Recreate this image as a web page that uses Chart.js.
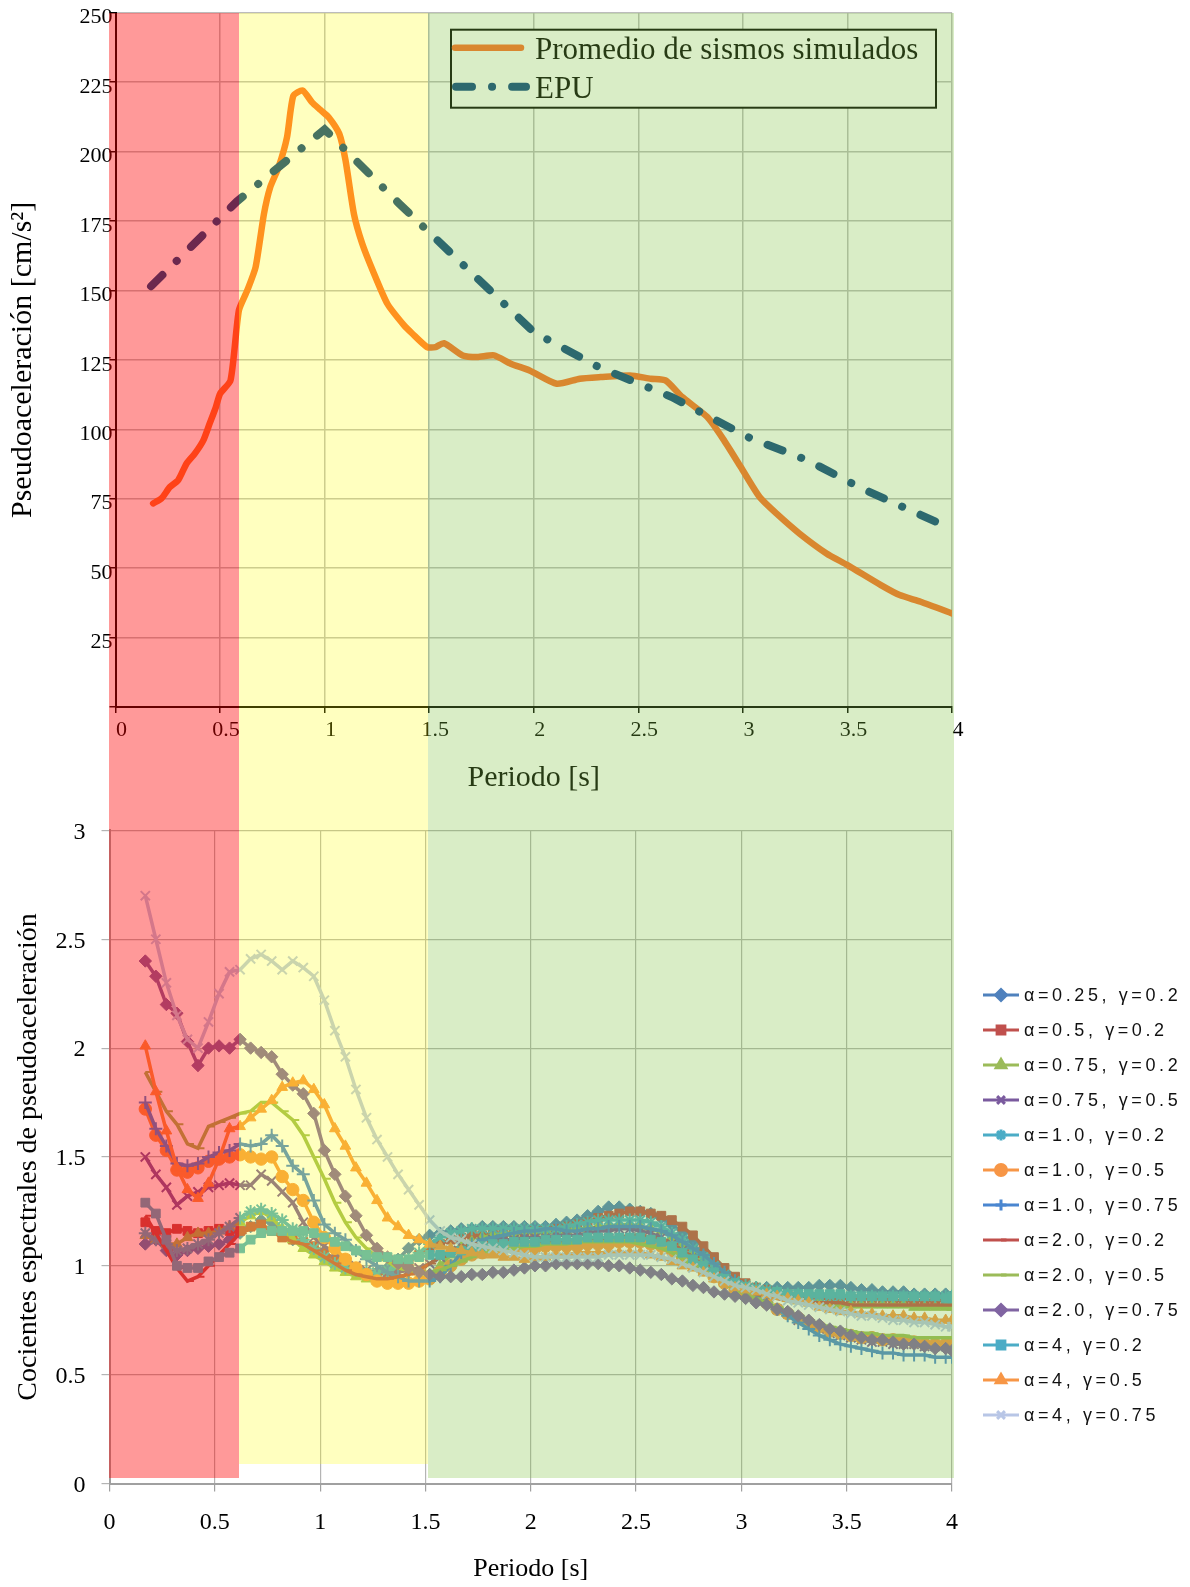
<!DOCTYPE html>
<html>
<head>
<meta charset="utf-8">
<title>Pseudoaceleración y cocientes espectrales</title>
<script src="https://cdn.jsdelivr.net/npm/chart.js@4.4.0/dist/chart.umd.min.js"></script>
<style>
  body { margin: 0; background: #fff; }
  #page { position: relative; width: 1190px; height: 1587px; overflow: hidden; }
  #topChart { position: absolute; left: 0; top: 0; }
  #bottomChart { position: absolute; left: 0; top: 800px; }
  .band { position: absolute; pointer-events: none; }
</style>
</head>
<body>
<div id="page">
  <canvas id="topChart" width="1190" height="800"></canvas>
  <canvas id="bottomChart" width="1190" height="787"></canvas>
</div>
<script>
// ---- Upper chart data: pseudoacceleration [cm/s2] ----
var promPeriods = [0.18,0.22,0.26,0.30,0.34,0.38,0.42,0.45,0.48,0.50,
    0.55,0.59,0.63,0.67,0.71,0.74,0.78,0.82,0.85,0.895,
    0.94,0.98,1.02,1.07,1.10,1.14,1.18,1.23,1.30,1.38,
    1.42,1.49,1.53,1.57,1.66,1.73,1.81,1.89,1.98,2.11,
    2.22,2.32,2.46,2.56,2.63,2.71,2.83,2.91,2.99,3.08,
    3.16,3.27,3.40,3.50,3.66,3.75,3.85,4.0];
var promValues = [73.3,75.1,79.2,81.7,87.7,91.3,96,102,108,112.8,
    117.6,142.8,150,158.4,177.6,187.2,194.4,205.1,220,222,
    217.7,215,212.3,206.4,196.8,177.6,166.8,157.2,145.2,137.4,
    134.4,129.6,129.6,131,126.6,126,126.6,123.6,121.2,116.4,
    118.2,118.8,119.4,118.2,117.6,111.6,104.4,96,86.4,75.6,
    69.7,62.5,55.3,51.1,43.9,40.3,37.9,33.7];

var epuPeriods = [0.17,0.58,1.0,1.36,1.54,2.0,2.31,2.66,3.03,3.31,3.56,3.95];
var epuValues = [151.5,182,208,181,168,135,122.4,111.6,97,88.8,79,65.8];

var topLabels = ['EPU', 'Promedio de sismos simulados'];

// ---- Lower chart data: spectral ratios ----
var periods = [0.17,0.22,0.27,0.32,0.37,0.42,0.47,0.52,0.57,0.62,
    0.67,0.72,0.77,0.82,0.87,0.92,0.97,1.02,1.07,1.12,
    1.17,1.22,1.27,1.32,1.37,1.42,1.47,1.52,1.57,1.62,
    1.67,1.72,1.77,1.82,1.87,1.92,1.97,2.02,2.07,2.12,
    2.17,2.22,2.27,2.32,2.37,2.42,2.47,2.52,2.57,2.62,
    2.67,2.72,2.77,2.82,2.87,2.92,2.97,3.02,3.07,3.12,
    3.17,3.22,3.27,3.32,3.37,3.42,3.47,3.52,3.57,3.62,
    3.67,3.72,3.77,3.82,3.87,3.92,3.97,4.0];

var a025g02 = [1.10,1.12,1.07,1.05,1.07,1.08,1.09,1.10,1.12,1.15,
    1.18,1.21,1.20,1.16,1.12,1.10,1.08,1.05,1.02,0.99,
    0.97,0.96,0.97,0.99,1.03,1.08,1.12,1.14,1.15,1.16,
    1.17,1.17,1.18,1.18,1.18,1.18,1.18,1.18,1.18,1.19,
    1.20,1.21,1.23,1.25,1.27,1.27,1.26,1.25,1.24,1.22,
    1.19,1.15,1.10,1.05,1.00,0.96,0.93,0.91,0.90,0.90,
    0.90,0.90,0.90,0.90,0.91,0.91,0.91,0.90,0.89,0.89,
    0.88,0.88,0.88,0.87,0.87,0.87,0.87,0.86];
var a05g02 = [1.20,1.16,1.15,1.17,1.16,1.15,1.16,1.17,1.16,1.16,
    1.18,1.19,1.16,1.13,1.12,1.11,1.09,1.06,1.03,1.00,
    0.98,0.96,0.96,0.97,0.99,1.02,1.05,1.08,1.10,1.12,
    1.13,1.14,1.14,1.15,1.15,1.15,1.15,1.16,1.16,1.17,
    1.18,1.19,1.20,1.22,1.23,1.24,1.25,1.25,1.24,1.23,
    1.21,1.18,1.14,1.09,1.04,0.99,0.95,0.92,0.90,0.89,
    0.88,0.87,0.86,0.86,0.85,0.85,0.85,0.85,0.85,0.85,
    0.85,0.84,0.84,0.84,0.84,0.84,0.84,0.84];
var a075g02 = [1.14,1.12,1.10,1.10,1.13,1.15,1.15,1.16,1.18,1.20,
    1.23,1.25,1.22,1.17,1.12,1.08,1.05,1.02,0.99,0.97,
    0.95,0.94,0.93,0.93,0.93,0.93,0.94,0.96,1.00,1.05,
    1.09,1.11,1.13,1.14,1.15,1.15,1.16,1.16,1.16,1.16,
    1.16,1.17,1.17,1.18,1.18,1.19,1.19,1.18,1.17,1.16,
    1.13,1.10,1.06,1.02,0.98,0.95,0.92,0.90,0.88,0.87,
    0.86,0.85,0.84,0.83,0.83,0.82,0.82,0.82,0.82,0.82,
    0.82,0.82,0.82,0.81,0.81,0.81,0.81,0.81];
var a075g05 = [1.50,1.42,1.36,1.28,1.32,1.34,1.36,1.37,1.38,1.37,
    1.37,1.42,1.39,1.34,1.29,1.20,1.13,1.09,1.06,1.03,
    1.00,0.98,0.97,0.97,0.97,0.98,0.99,1.01,1.04,1.07,
    1.09,1.10,1.11,1.12,1.12,1.12,1.13,1.13,1.13,1.14,
    1.14,1.14,1.15,1.16,1.16,1.17,1.17,1.16,1.15,1.13,
    1.10,1.07,1.04,1.00,0.97,0.94,0.91,0.88,0.86,0.83,
    0.80,0.78,0.75,0.73,0.71,0.69,0.68,0.67,0.66,0.65,
    0.65,0.64,0.64,0.64,0.63,0.63,0.63,0.63];
var a1g02 = [1.15,1.12,1.10,1.07,1.08,1.10,1.12,1.15,1.18,1.22,
    1.25,1.26,1.24,1.21,1.17,1.12,1.08,1.04,1.01,0.99,
    0.98,0.97,0.97,0.98,1.00,1.03,1.06,1.10,1.13,1.15,
    1.16,1.17,1.17,1.17,1.17,1.17,1.17,1.17,1.17,1.17,
    1.18,1.19,1.20,1.21,1.21,1.21,1.21,1.21,1.20,1.18,
    1.15,1.12,1.08,1.04,1.00,0.96,0.93,0.91,0.90,0.89,
    0.88,0.87,0.87,0.86,0.86,0.86,0.86,0.86,0.86,0.86,
    0.86,0.86,0.86,0.86,0.86,0.86,0.86,0.86];
var a1g05 = [1.72,1.60,1.53,1.44,1.43,1.45,1.48,1.49,1.50,1.51,
    1.50,1.49,1.50,1.41,1.35,1.30,1.20,1.13,1.08,1.03,
    0.99,0.96,0.93,0.92,0.92,0.92,0.93,0.94,0.97,1.00,
    1.03,1.05,1.06,1.07,1.08,1.08,1.08,1.08,1.09,1.09,
    1.09,1.09,1.10,1.10,1.10,1.11,1.11,1.11,1.10,1.09,
    1.07,1.04,1.01,0.98,0.95,0.92,0.89,0.87,0.85,0.83,
    0.80,0.78,0.76,0.74,0.72,0.70,0.69,0.68,0.67,0.67,
    0.66,0.66,0.65,0.65,0.64,0.64,0.64,0.64];
var a1g075 = [1.75,1.63,1.55,1.47,1.46,1.47,1.50,1.52,1.53,1.56,
    1.55,1.56,1.60,1.55,1.46,1.42,1.30,1.19,1.15,1.12,
    1.07,1.03,1.00,0.97,0.95,0.93,0.93,0.93,0.95,1.00,
    1.06,1.10,1.12,1.13,1.14,1.15,1.16,1.16,1.17,1.17,
    1.16,1.16,1.17,1.17,1.18,1.18,1.18,1.18,1.17,1.16,
    1.14,1.11,1.08,1.05,1.01,0.97,0.93,0.89,0.86,0.83,
    0.80,0.77,0.74,0.71,0.68,0.66,0.64,0.63,0.62,0.61,
    0.60,0.60,0.59,0.59,0.59,0.58,0.58,0.58];
var a2g02 = [1.23,1.15,1.07,0.99,0.93,0.95,1.00,1.05,1.10,1.15,
    1.17,1.18,1.16,1.13,1.11,1.10,1.07,1.04,1.01,0.98,
    0.96,0.95,0.94,0.94,0.95,0.96,0.98,1.01,1.04,1.07,
    1.09,1.10,1.10,1.11,1.11,1.11,1.11,1.11,1.11,1.11,
    1.11,1.12,1.12,1.12,1.13,1.13,1.14,1.14,1.13,1.12,
    1.10,1.07,1.04,1.00,0.97,0.94,0.91,0.89,0.87,0.86,
    0.85,0.84,0.84,0.83,0.83,0.83,0.83,0.82,0.82,0.82,
    0.82,0.82,0.82,0.82,0.82,0.82,0.82,0.82];
var a2g05 = [1.89,1.80,1.71,1.65,1.56,1.54,1.64,1.66,1.68,1.70,
    1.71,1.75,1.75,1.71,1.67,1.60,1.50,1.40,1.29,1.20,
    1.13,1.08,1.04,1.02,0.99,0.98,0.97,0.97,0.98,1.00,
    1.02,1.04,1.06,1.07,1.08,1.08,1.09,1.09,1.10,1.10,
    1.10,1.11,1.11,1.11,1.11,1.11,1.11,1.10,1.09,1.08,
    1.06,1.03,1.00,0.97,0.94,0.92,0.89,0.87,0.85,0.83,
    0.81,0.79,0.77,0.75,0.73,0.72,0.71,0.70,0.69,0.69,
    0.68,0.68,0.68,0.67,0.67,0.67,0.67,0.67];
var a2g075 = [2.40,2.33,2.20,2.16,2.03,1.92,2.00,2.01,2.00,2.04,
    2.00,1.98,1.96,1.88,1.83,1.79,1.70,1.53,1.42,1.32,
    1.23,1.14,1.08,1.04,1.01,0.99,0.97,0.96,0.95,0.95,
    0.95,0.96,0.96,0.97,0.97,0.98,0.99,1.00,1.00,1.01,
    1.01,1.01,1.01,1.01,1.00,1.00,0.99,0.98,0.97,0.96,
    0.94,0.93,0.91,0.90,0.88,0.87,0.86,0.85,0.83,0.82,
    0.80,0.79,0.77,0.75,0.73,0.71,0.70,0.68,0.67,0.66,
    0.66,0.65,0.64,0.64,0.63,0.62,0.62,0.61];
var a4g02 = [1.29,1.24,1.12,1.00,0.99,0.99,1.02,1.04,1.06,1.08,
    1.12,1.15,1.16,1.16,1.16,1.16,1.15,1.13,1.11,1.09,
    1.07,1.05,1.04,1.04,1.03,1.03,1.04,1.05,1.05,1.06,
    1.07,1.08,1.09,1.10,1.10,1.11,1.11,1.11,1.12,1.12,
    1.12,1.12,1.13,1.13,1.13,1.13,1.13,1.13,1.12,1.11,
    1.09,1.06,1.03,1.00,0.97,0.94,0.92,0.90,0.89,0.88,
    0.88,0.87,0.87,0.87,0.87,0.87,0.87,0.86,0.86,0.86,
    0.86,0.86,0.86,0.86,0.86,0.86,0.85,0.85];
var a4g05 = [2.01,1.80,1.62,1.45,1.35,1.31,1.38,1.49,1.63,1.64,
    1.68,1.72,1.76,1.82,1.84,1.85,1.81,1.74,1.63,1.55,
    1.45,1.38,1.30,1.22,1.18,1.14,1.12,1.10,1.09,1.08,
    1.07,1.06,1.05,1.05,1.04,1.04,1.03,1.04,1.04,1.05,
    1.05,1.06,1.06,1.06,1.06,1.06,1.06,1.06,1.05,1.04,
    1.02,1.00,0.99,0.97,0.94,0.92,0.90,0.89,0.88,0.87,
    0.86,0.85,0.84,0.83,0.81,0.80,0.79,0.79,0.78,0.78,
    0.77,0.77,0.77,0.76,0.76,0.75,0.75,0.75];
var a4g075 = [2.70,2.50,2.30,2.15,2.04,2.00,2.12,2.25,2.35,2.36,
    2.41,2.43,2.40,2.36,2.40,2.37,2.33,2.22,2.08,1.96,
    1.81,1.68,1.58,1.50,1.42,1.35,1.28,1.21,1.16,1.13,
    1.12,1.10,1.09,1.08,1.07,1.06,1.05,1.04,1.04,1.04,
    1.04,1.04,1.04,1.04,1.05,1.05,1.05,1.05,1.05,1.04,
    1.03,1.01,0.99,0.97,0.95,0.93,0.91,0.90,0.89,0.87,
    0.86,0.84,0.83,0.82,0.81,0.80,0.79,0.78,0.77,0.77,
    0.76,0.75,0.75,0.74,0.74,0.73,0.72,0.72];

var seriesLabels = ['α=0.25, γ=0.2', 'α=0.5, γ=0.2', 'α=0.75, γ=0.2', 'α=0.75, γ=0.5',
    'α=1.0, γ=0.2', 'α=1.0, γ=0.5', 'α=1.0, γ=0.75', 'α=2.0, γ=0.2', 'α=2.0, γ=0.5',
    'α=2.0, γ=0.75', 'α=4, γ=0.2', 'α=4, γ=0.5', 'α=4, γ=0.75'];
var seriesValues = [a025g02, a05g02, a075g02, a075g05, a1g02, a1g05, a1g075,
    a2g02, a2g05, a2g075, a4g02, a4g05, a4g075];
var seriesColors = ['#4f81bd', '#c0504d', '#9bbb59', '#7a5a9e', '#4bacc6', '#f79646', '#4a86d0',
    '#c0504d', '#9bbb59', '#8064a2', '#4bacc6', '#f79646', '#b8c6e6'];
var seriesMarkers = ['rectRot', 'rect', 'triangle', 'crossRot', 'star', 'circle', 'cross',
    'dash', 'dash', 'rectRot', 'rect', 'triangle', 'crossRot'];

// Period ranges shaded over both charts
var bandFrom = [-0.03, 0.59, 1.495];
var bandTo = [0.59, 1.495, 4.01];
var bandEnd = [0.025, 0.09, 0.025];
var bandColors = ['rgba(255, 0, 0, 0.4)', 'rgba(255, 255, 0, 0.25)', 'rgba(128, 195, 65, 0.3)'];

var serif = '"Liberation Serif", "Times New Roman", serif';

// Function to turn two arrays into {x, y} points
function toPoints(xs, ys) {
    var pts = [];
    for (var i = 0; i < xs.length; i++) {
        pts.push({ x: xs[i], y: ys[i] });
    }
    return pts;
}

// Function to print ticks as 0, 0.5, 1, 1.5 ...
function plainTick(v) {
    return String(Math.round(v * 100) / 100);
}

// Framed legend inside the upper chart
var topLegend = {
    id: 'topLegend',
    afterDraw: function(chart) {
        var ctx = chart.ctx;
        var left = chart.chartArea.right - 501;
        var top = chart.chartArea.top + 17;
        ctx.save();
        ctx.fillStyle = '#fff';
        ctx.fillRect(left, top, 485, 78);
        ctx.strokeStyle = '#000';
        ctx.lineWidth = 2;
        ctx.strokeRect(left, top, 485, 78);

        // solid line sample
        var prom = chart.data.datasets[1];
        ctx.lineCap = 'round';
        ctx.strokeStyle = prom.borderColor;
        ctx.lineWidth = prom.borderWidth;
        ctx.beginPath();
        ctx.moveTo(left + 4, top + 18);
        ctx.lineTo(left + 70, top + 18);
        ctx.stroke();

        // dash-dot sample
        var epu = chart.data.datasets[0];
        ctx.strokeStyle = epu.borderColor;
        ctx.lineWidth = epu.borderWidth;
        ctx.setLineDash(epu.borderDash);
        ctx.beginPath();
        ctx.moveTo(left + 5, top + 57);
        ctx.lineTo(left + 75, top + 57);
        ctx.stroke();
        ctx.setLineDash([]);

        ctx.fillStyle = '#000';
        ctx.font = '31px ' + serif;
        ctx.textBaseline = 'alphabetic';
        ctx.fillText(prom.label, left + 84, top + 29);
        ctx.fillText(epu.label, left + 84, top + 68);
        ctx.restore();
    }
};

// Legend to the right of the lower chart
var sideLegend = {
    id: 'sideLegend',
    afterDraw: function(chart) {
        var ctx = chart.ctx;
        var x0 = chart.chartArea.right + 31;
        var sets = chart.data.datasets;
        ctx.save();
        for (var k = 0; k < sets.length; k++) {
            var ds = sets[k];
            var y = 195 + k * 35;
            ctx.strokeStyle = ds.borderColor;
            ctx.fillStyle = ds.borderColor;
            ctx.lineWidth = 3;
            ctx.beginPath();
            ctx.moveTo(x0, y);
            ctx.lineTo(x0 + 36, y);
            ctx.stroke();
            if (Chart.helpers && Chart.helpers.drawPoint) {
                Chart.helpers.drawPoint(ctx, {
                    pointStyle: ds.pointStyle,
                    radius: 5.5,
                    borderWidth: ds.pointBorderWidth,
                    rotation: 0
                }, x0 + 18, y);
            }
            ctx.fillStyle = '#111';
            ctx.font = '18px "Liberation Sans", Arial, sans-serif';
            ctx.letterSpacing = '3.6px';
            ctx.textBaseline = 'middle';
            ctx.fillText(ds.label, x0 + 41, y + 1);
        }
        ctx.restore();
    }
};

// Upper chart
var topCtx = document.getElementById('topChart').getContext('2d');
var topChart = new Chart(topCtx, {
    type: 'line',
    data: {
        datasets: [{
            label: topLabels[0],
            data: toPoints(epuPeriods, epuValues),
            borderColor: '#0a4382',
            borderWidth: 8,
            borderDash: [16, 20, 0.1, 20],
            borderCapStyle: 'round',
            pointRadius: 0,
            tension: 0
        }, {
            label: topLabels[1],
            data: toPoints(promPeriods, promValues),
            borderColor: '#ff6e28',
            borderWidth: 6.5,
            borderCapStyle: 'round',
            borderJoinStyle: 'round',
            pointRadius: 0,
            tension: 0.2
        }]
    },
    options: {
        responsive: false,
        animation: false,
        events: [],
        layout: { padding: { left: 0, top: 12.7, right: 238, bottom: 0 } },
        plugins: { legend: { display: false }, tooltip: { enabled: false } },
        scales: {
            x: {
                type: 'linear', min: 0, max: 4,
                ticks: { stepSize: 0.5, labelOffset: 6, padding: 4, maxRotation: 0, autoSkip: false,
                    color: '#000', font: { family: serif, size: 22 }, callback: plainTick },
                grid: { color: '#bcbcbc', lineWidth: 1.5, tickLength: 6, tickColor: '#000' },
                border: { color: '#000', width: 2 },
                title: { display: true, text: 'Periodo [s]', color: '#000',
                    font: { family: serif, size: 30 }, padding: { top: 3, bottom: 4 } },
                afterFit: function(scale) { scale.height = 93; }
            },
            y: {
                min: 0, max: 250,
                ticks: { stepSize: 25, labelOffset: 5, padding: -3, color: '#000',
                    font: { family: serif, size: 22 },
                    callback: function(v) { return v === 0 ? '' : plainTick(v); } },
                grid: { color: '#bcbcbc', lineWidth: 1.5, tickLength: 6, tickColor: '#000' },
                border: { color: '#000', width: 2 },
                title: { display: true, text: 'Pseudoaceleración [cm/s²]', color: '#000',
                    font: { family: serif, size: 30 }, padding: { top: 5 } },
                afterFit: function(scale) { scale.width = 115.5; }
            }
        }
    },
    plugins: [topLegend]
});

// Build the lower chart datasets
var bottomSets = [];
for (var i = 0; i < seriesValues.length; i++) {
    var m = seriesMarkers[i];
    var open = (m === 'crossRot' || m === 'cross' || m === 'star' || m === 'dash');
    bottomSets.push({
        label: seriesLabels[i],
        data: toPoints(periods, seriesValues[i]),
        borderColor: seriesColors[i],
        backgroundColor: seriesColors[i],
        borderWidth: 3.5,
        pointStyle: m,
        pointRadius: open ? 6.5 : 6.2,
        pointBorderWidth: open ? 2 : 1,
        pointBorderColor: seriesColors[i],
        pointBackgroundColor: seriesColors[i],
        order: seriesValues.length - 1 - i,
        tension: 0
    });
}

// Lower chart
var bottomCtx = document.getElementById('bottomChart').getContext('2d');
var bottomChart = new Chart(bottomCtx, {
    type: 'line',
    data: { datasets: bottomSets },
    options: {
        responsive: false,
        animation: false,
        events: [],
        layout: { padding: { left: 0, top: 30, right: 238, bottom: 0 } },
        plugins: { legend: { display: false }, tooltip: { enabled: false } },
        scales: {
            x: {
                type: 'linear', min: 0, max: 4,
                ticks: { stepSize: 0.5, padding: 17, maxRotation: 0, autoSkip: false,
                    color: '#000', font: { family: serif, size: 24 }, callback: plainTick },
                grid: { color: '#b4b4b4', lineWidth: 1.2, tickLength: 8, tickColor: '#a0a0a0' },
                border: { color: '#a0a0a0', width: 2 },
                title: { display: true, text: 'Periodo [s]', color: '#000',
                    font: { family: serif, size: 26 }, padding: { top: 1, bottom: 2 } },
                afterFit: function(scale) { scale.height = 103.5; }
            },
            y: {
                min: 0, max: 3,
                ticks: { stepSize: 0.5, padding: 16, labelOffset: 2, color: '#000',
                    font: { family: serif, size: 24 }, callback: plainTick },
                grid: { color: '#b4b4b4', lineWidth: 1.2, tickLength: 8, tickColor: '#b4b4b4' },
                border: { color: '#a0a0a0', width: 2 },
                title: { display: true, text: 'Cocientes espectrales de pseudoaceleración', color: '#000',
                    font: { family: serif, size: 28 }, padding: { top: 12 } },
                afterFit: function(scale) { scale.width = 109.5; }
            }
        }
    },
    plugins: [sideLegend]
});

// Function to lay the translucent period bands over both charts
function drawBands() {
    var page = document.getElementById('page');
    var xTop = topChart.scales.x;
    var yTop = topChart.scales.y;
    var yBottom = bottomChart.scales.y;
    var offset = bottomChart.canvas.offsetTop;
    for (var i = 0; i < bandFrom.length; i++) {
        var left = Math.round(xTop.getPixelForValue(bandFrom[i]));
        var right = Math.round(xTop.getPixelForValue(bandTo[i]));
        var top = Math.round(yTop.getPixelForValue(yTop.max));
        var bottom = Math.round(offset + yBottom.getPixelForValue(bandEnd[i]));
        var div = document.createElement('div');
        div.className = 'band';
        div.style.left = left + 'px';
        div.style.top = top + 'px';
        div.style.width = (right - left) + 'px';
        div.style.height = (bottom - top) + 'px';
        div.style.background = bandColors[i];
        page.appendChild(div);
    }
}

drawBands();
</script>
</body>
</html>
